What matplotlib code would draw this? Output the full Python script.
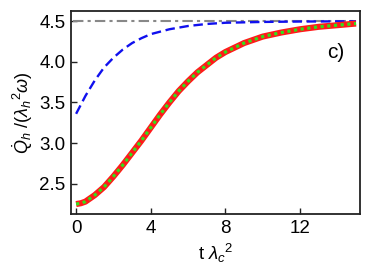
import matplotlib
matplotlib.use("Agg")
import matplotlib.pyplot as plt

# ----------------------------------------
# Data
# ----------------------------------------
t_full = [0, 0.25, 0.5, 0.75, 1, 1.5, 2, 2.5, 3, 3.5, 4, 4.5, 5, 5.5, 6, 6.5, 7, 7.5, 8,
          9, 10, 11, 12, 13, 14, 15]
q_full = [2.25, 2.26, 2.28, 2.32, 2.36, 2.46, 2.59, 2.73, 2.88, 3.03, 3.19, 3.35, 3.50,
          3.64, 3.76, 3.87, 3.96, 4.05, 4.12, 4.23, 4.31, 4.36, 4.40, 4.43, 4.45, 4.47]

t_blue = [0, 0.25, 0.5, 1, 1.5, 2, 2.5, 3, 3.5, 4, 5, 6, 7, 8, 10, 12, 15]
q_blue = [3.36, 3.47, 3.58, 3.77, 3.93, 4.05, 4.15, 4.23, 4.29, 4.34, 4.40, 4.44,
          4.465, 4.48, 4.49, 4.495, 4.498]

q_limit = 4.5
x_ticks = [0, 4, 8, 12]
y_ticks = [2.5, 3.0, 3.5, 4.0, 4.5]

plt.rcParams['font.family'] = ['Liberation Sans', 'DejaVu Sans']
plt.rcParams['mathtext.fontset'] = 'custom'
plt.rcParams['mathtext.rm'] = 'Liberation Sans'
plt.rcParams['mathtext.it'] = 'Liberation Sans:italic'

fig = plt.figure(figsize=(3.74, 2.78), dpi=100)
ax = fig.add_axes([0.190, 0.230, 0.7725, 0.730])

ax.hlines(q_limit, -0.15, 15, colors='#888888', linestyles=(0, (5, 2, 1.5, 2)), linewidth=1.5)
ax.plot(t_blue, q_blue, color='#1010ee', linestyle=(0, (4, 2)), linewidth=1.7)
ax.plot(t_full, q_full, color='#ff1a1a', linewidth=4.4, solid_capstyle='butt',
        solid_joinstyle='round')
ax.plot(t_full, q_full, color='#33e01a', linestyle=(0, (1, 1.1)), linewidth=2.3)

ax.set_xlim(-0.27, 15.21)
ax.set_ylim(2.127, 4.623)
ax.set_xticks(x_ticks)
ax.set_yticks(y_ticks)
ax.set_yticklabels([f"{v:.1f}" for v in y_ticks])
ax.tick_params(direction='in', length=4, width=1, labelsize=13.5, top=False, right=False,
               colors='#222222', labelcolor='black', pad=4)
for s in ax.spines.values():
    s.set_linewidth(1.3)
    s.set_color('#222222')

ax.text(13.9, 4.12, "c)", fontsize=15, ha='center', va='center')

ax.set_xlabel(r'$\mathrm{t}\ \lambda_c{}^2$', fontsize=13.5, labelpad=4)
ax.set_ylabel(r'$\dot{Q}_h\ /(\lambda_h{}^2\omega)$', fontsize=13, labelpad=3)

plt.savefig("out.png", dpi=100)
